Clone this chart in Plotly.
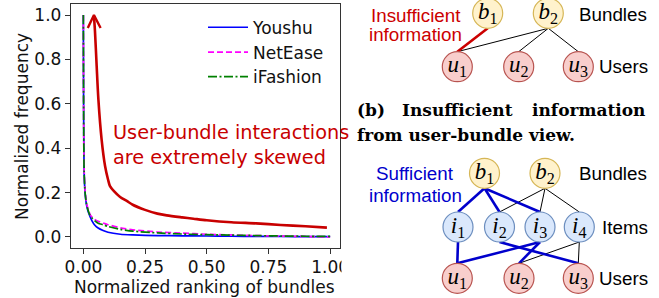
import plotly.graph_objects as go

# ---------------- left chart data ----------------
X_RANK = [0.0, 0.001, 0.003, 0.007, 0.012, 0.018, 0.027, 0.035, 0.045, 0.06, 0.08, 0.1,
          0.15, 0.2, 0.3, 0.4, 0.5, 0.6, 0.7, 0.8, 0.9, 1.0]
YOUSHU = [1.0, 0.62, 0.30, 0.20, 0.15, 0.12, 0.092, 0.072, 0.055, 0.040, 0.029, 0.021,
          0.012, 0.009, 0.006, 0.005, 0.004, 0.003, 0.002, 0.002, 0.001, 0.001]
NETEASE = [1.0, 0.62, 0.31, 0.21, 0.16, 0.13, 0.102, 0.09, 0.08, 0.07, 0.063, 0.055,
           0.041, 0.032, 0.022, 0.017, 0.012, 0.009, 0.006, 0.004, 0.002, 0.0]
IFASHION = [1.0, 0.62, 0.30, 0.20, 0.155, 0.125, 0.097, 0.085, 0.074, 0.062, 0.055, 0.047,
            0.034, 0.026, 0.018, 0.013, 0.010, 0.008, 0.006, 0.004, 0.003, 0.002]
SERIES_NAMES = ["Youshu", "NetEase", "iFashion"]

# red "skewed" annotation curve and arrowhead (data units)
RED_X = [0.987, 0.9, 0.8, 0.7, 0.6, 0.5, 0.446, 0.4, 0.338, 0.3, 0.25, 0.2, 0.176,
         0.149, 0.125, 0.108, 0.1, 0.088, 0.074, 0.061, 0.054, 0.047, 0.043]
RED_Y = [0.042, 0.048, 0.054, 0.061, 0.066, 0.075, 0.082, 0.088, 0.097, 0.105, 0.122,
         0.145, 0.162, 0.18, 0.205, 0.229, 0.259, 0.32, 0.44, 0.62, 0.77, 0.93, 0.995]
ARROW_X = [0.018, 0.043, 0.070]
ARROW_Y = [0.942, 1.0, 0.942]
ANNOT_LINES = ["User-bundle interactions", "are extremely skewed"]

X_TICKS = [0, 0.25, 0.5, 0.75, 1.0]
X_TICKTEXT = ["0.00", "0.25", "0.50", "0.75", "1.00"]
Y_TICKS = [0, 0.2, 0.4, 0.6, 0.8, 1.0]
Y_TICKTEXT = ["0.0", "0.2", "0.4", "0.6", "0.8", "1.0"]

# ---------------- right diagrams data (diagram units = px) ----------------
TOP_NAMES = ["b1", "b2", "u1", "u2", "u3"]
TOP_X = [487.7, 548.3, 457.3, 518.7, 578.3]
TOP_Y = [13.3, 13.3, 66.7, 66.7, 66.7]
TOP_RED = [("b1", "u1")]
TOP_BLACK = [("b2", "u1"), ("b2", "u2"), ("b2", "u3")]

BOT_NAMES = ["b1", "b2", "i1", "i2", "i3", "i4", "u1", "u2", "u3"]
BOT_X = [484.5, 545.0, 458.0, 499.5, 540.0, 579.3, 457.3, 519.0, 578.3]
BOT_Y = [173.3, 173.3, 227.0, 227.0, 227.0, 227.0, 278.3, 278.3, 278.3]
BOT_BLUE = [("b1", "i1"), ("b1", "i2"), ("b1", "i3"), ("i1", "u1"),
            ("i3", "u1"), ("i3", "u2"), ("i2", "u3")]
BOT_BLACK = [("b2", "i2"), ("b2", "i3"), ("b2", "i4"), ("i4", "u2"), ("i4", "u3")]

R = 15
W, H = 659, 298

NODE_STYLE = {"b": ("#fff2cc", "#d6b656"), "i": ("#dae8fc", "#6c8ebf"), "u": ("#f8cecc", "#b85450")}

fig = go.Figure()

sans = "DejaVu Sans"

# ---- left chart traces ----
styles = [("#0000ff", "solid"), ("#ff00ff", "6px,3px"), ("#008000", "9px,2.5px,2px,2.5px")]
legend_ids = ["legend", "legend2", "legend3"]
legend_rows = [27.7, 52.5, 77.0]
for name, ys, (col, dash), lid in zip(SERIES_NAMES, [YOUSHU, NETEASE, IFASHION], styles, legend_ids):
    fig.add_trace(go.Scatter(x=X_RANK, y=ys, mode="lines", name=name, legend=lid,
                             line=dict(color=col, width=1.7, dash=dash, shape="spline", smoothing=0.6),
                             xaxis="x", yaxis="y"))

fig.add_trace(go.Scatter(x=RED_X, y=RED_Y, mode="lines", showlegend=False,
                         line=dict(color="#c80000", width=2.6, shape="spline", smoothing=0.8)))
fig.add_trace(go.Scatter(x=ARROW_X, y=ARROW_Y, mode="lines", showlegend=False,
                         line=dict(color="#c80000", width=2.4)))


def edge_xy(names, xs, ys, pairs):
    ex, ey = [], []
    for a, b in pairs:
        ia, ib = names.index(a), names.index(b)
        ex += [xs[ia], xs[ib], None]
        ey += [ys[ia] + R, ys[ib] - R, None]
    return ex, ey


def add_edges(names, xs, ys, pairs, color, width):
    ex, ey = edge_xy(names, xs, ys, pairs)
    fig.add_trace(go.Scatter(x=ex, y=ey, mode="lines", showlegend=False, xaxis="x2", yaxis="y2",
                             line=dict(color=color, width=width), hoverinfo="skip"))


def add_nodes(names, xs, ys):
    fills = [NODE_STYLE[n[0]][0] for n in names]
    borders = [NODE_STYLE[n[0]][1] for n in names]
    labels = ["<i>%s</i><sub>%s</sub>" % (n[0], n[1]) for n in names]
    fig.add_trace(go.Scatter(x=xs, y=ys, mode="markers+text", showlegend=False, xaxis="x2", yaxis="y2",
                             text=labels, textposition="middle center",
                             textfont=dict(family="Liberation Serif", size=23, color="black"),
                             marker=dict(size=2 * R, color=fills, line=dict(color=borders, width=1.2))))


add_edges(TOP_NAMES, TOP_X, TOP_Y, TOP_BLACK, "black", 1.0)
add_edges(TOP_NAMES, TOP_X, TOP_Y, TOP_RED, "#cc0000", 2.6)
add_nodes(TOP_NAMES, TOP_X, TOP_Y)
add_edges(BOT_NAMES, BOT_X, BOT_Y, BOT_BLACK, "black", 1.0)
add_edges(BOT_NAMES, BOT_X, BOT_Y, BOT_BLUE, "#0000cc", 2.6)
add_nodes(BOT_NAMES, BOT_X, BOT_Y)

tickfont = dict(family=sans, size=17, color="#111")

annotations = []
# axis titles
annotations.append(dict(text="Normalized frequency", xref="paper", yref="paper", x=22 / W, y=(H - 127) / H,
                        textangle=-90, showarrow=False, xanchor="center", yanchor="middle",
                        font=dict(family=sans, size=17, color="#111")))
annotations.append(dict(text="Normalized ranking of bundles", xref="paper", yref="paper", x=204 / W,
                        y=(H - 287) / H, showarrow=False, xanchor="center", yanchor="middle",
                        font=dict(family=sans, size=17, color="#111")))
# red annotation text
for txt, yv in zip(ANNOT_LINES, [0.471, 0.358]):
    annotations.append(dict(text=txt, xref="x", yref="y", x=0.113, y=yv, showarrow=False,
                            xanchor="left", yanchor="middle",
                            font=dict(family=sans, size=19.3, color="#c80000")))

# diagram texts
label_font = dict(family="Liberation Sans", size=18.8, color="black")


def dtext(txt, x, y, anchor, color="black", font=None, size=None):
    f = dict(font or label_font)
    f["color"] = color
    if size:
        f["size"] = size
    annotations.append(dict(text=txt, xref="x2", yref="y2", x=x, y=y, showarrow=False,
                            xanchor=anchor, yanchor="middle", font=f))


dtext("Insufficient", 416, 15, "center", "#cc0000")
dtext("information", 415, 34, "center", "#cc0000")
dtext("Bundles", 576.7, 14, "left")
dtext("Users", 596.7, 66.7, "left")
dtext("Sufficient", 415, 173.3, "center", "#0000cc")
dtext("information", 415, 195, "center", "#0000cc")
dtext("Bundles", 577.3, 173.3, "left")
dtext("Items", 600, 227.3, "left")
dtext("Users", 596.7, 278.3, "left")

cap_font = dict(family="DejaVu Serif", size=17, color="black")
dtext("<b>(b)</b>", 355, 110, "left", font=cap_font)
dtext("<b>Insufficient</b>", 457, 110, "center", font=cap_font)
dtext("<b>information</b>", 647, 110, "right", font=cap_font)
dtext("<b>from user-bundle view.</b>", 355, 135, "left", font=cap_font)

legend_common = dict(xanchor="left", yanchor="middle", bgcolor="rgba(0,0,0,0)",
                     font=dict(family=sans, size=17, color="#111"), itemwidth=40)
legends = {}
for lid, row in zip(legend_ids, legend_rows):
    legends[lid] = dict(legend_common, x=203 / W, y=(H - row) / H)

fig.update_layout(
    width=W, height=H, margin=dict(l=0, r=0, t=0, b=0),
    paper_bgcolor="white", plot_bgcolor="white",
    showlegend=True,
    xaxis=dict(domain=[71 / W, 340 / W], range=[-0.05, 1.04], tickvals=X_TICKS, ticktext=X_TICKTEXT,
               showgrid=False, zeroline=False, showline=True, mirror=True, linecolor="#333",
               linewidth=1.4, ticks="outside", ticklen=5, tickcolor="#333", tickfont=tickfont,
               ticklabelstandoff=-2, automargin=False),
    yaxis=dict(domain=[(H - 248) / H, (H - 4) / H], range=[-0.05, 1.05], tickvals=Y_TICKS,
               ticktext=Y_TICKTEXT, showgrid=False, zeroline=False, showline=True, mirror=True,
               linecolor="#333", linewidth=1.4, ticks="outside", ticklen=5, tickcolor="#333",
               tickfont=tickfont, automargin=False),
    xaxis2=dict(domain=[345 / W, 1], range=[345, 659], visible=False, anchor="y2"),
    yaxis2=dict(domain=[0, 1], range=[298, 0], visible=False, anchor="x2"),
    annotations=annotations,
    shapes=[dict(type="rect", xref="paper", yref="paper", x0=341.5 / W, x1=352 / W, y0=0,
                 y1=(H - 250) / H, fillcolor="white", line=dict(width=0), layer="above")],
    **legends,
)

fig.write_html("out.html", config={"displayModeBar": False},
               post_script="document.body.style.margin='0';document.body.style.overflow='hidden';")
